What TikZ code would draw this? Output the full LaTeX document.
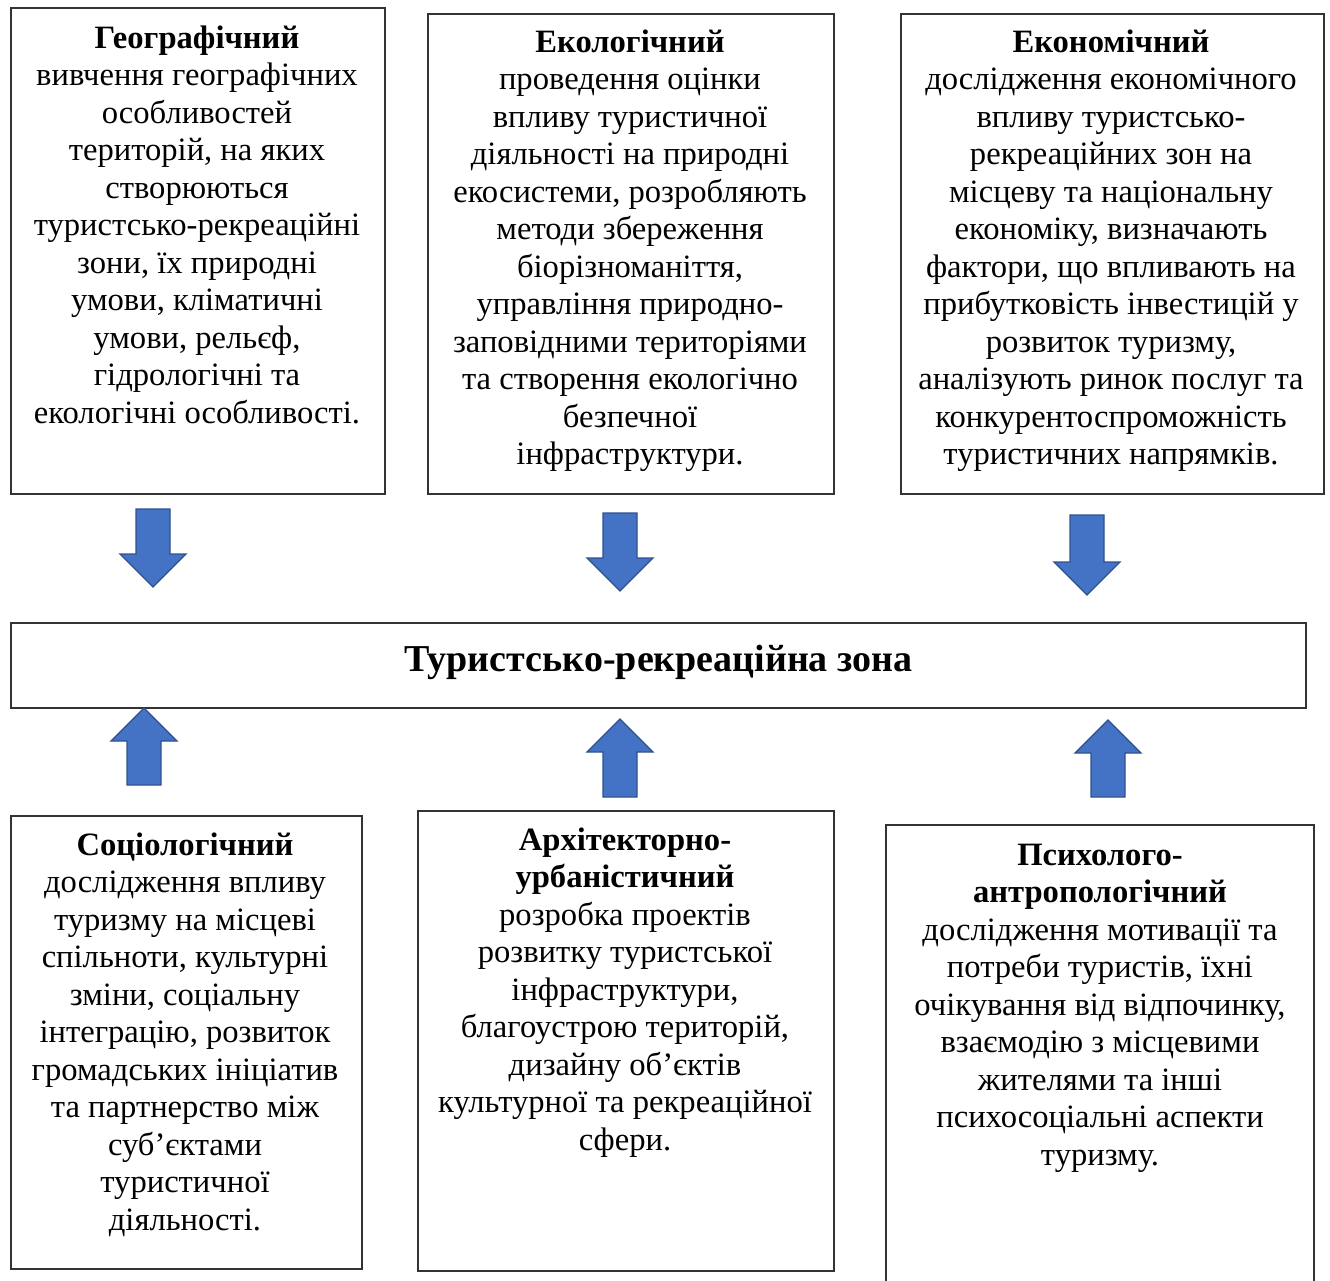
\documentclass[tikz,border=0pt]{standalone}
\usepackage{fontspec}
\setmainfont{Liberation Serif}
\definecolor{arrfill}{HTML}{4472C4}
\definecolor{arrline}{HTML}{2F528F}
\newcommand\blkdown[4]{% name, cx, top, tip
  \filldraw[arrsty] (#2-17,#3) -- (#2+17,#3) -- (#2+17,#4-33) -- (#2+33,#4-33) -- (#2,#4) -- (#2-33,#4-33) -- (#2-17,#4-33) -- cycle;
  \coordinate (#1) at (#2,#4);}
\newcommand\blkup[4]{% name, cx, bottom, tip
  \filldraw[arrsty] (#2-17,#3) -- (#2+17,#3) -- (#2+17,#4+33) -- (#2+33,#4+33) -- (#2,#4) -- (#2-33,#4+33) -- (#2-17,#4+33) -- cycle;
  \coordinate (#1) at (#2,#4);}
\begin{document}
\begin{tikzpicture}[x=1pt,y=-1pt,
  box/.style={draw=black!80, line width=1.8pt, fill=none, inner sep=0pt, anchor=north west},
  txt/.style={align=center, inner sep=0pt, anchor=north, font=\fontsize{32.6}{37.5}\selectfont},
  arrsty/.style={fill=arrfill, draw=arrline, line width=1.3pt, line join=miter}]
\useasboundingbox (0,0) rectangle (1330,1281);
\fill[white] (0,0) rectangle (1330,1281);

% top boxes
\node[box, minimum width=374pt, minimum height=485.5pt] (geo) at (10,7.5) {};
\node[box, minimum width=406pt, minimum height=480pt] (eco) at (427,13) {};
\node[box, minimum width=423pt, minimum height=480pt] (ec) at (900,13) {};

\node[txt] (geot) at (197,21.75) {\strut\textbf{Географічний}\\
вивчення географічних\\
особливостей\\
територій, на яких\\
створюються\\
туристсько-рекреаційні\\
зони, їх природні\\
умови, кліматичні\\
умови, рельєф,\\
гідрологічні та\\
екологічні особливості.};

\node[txt] (ecot) at (630,25.75) {\strut\textbf{Екологічний}\\
проведення оцінки\\
впливу туристичної\\
діяльності на природні\\
екосистеми, розробляють\\
методи збереження\\
біорізноманіття,\\
управління природно-\\
заповідними територіями\\
та створення екологічно\\
безпечної\\
інфраструктури.};

\node[txt] (ect) at (1111,25.75) {\strut\textbf{Економічний}\\
дослідження економічного\\
впливу туристсько-\\
рекреаційних зон на\\
місцеву та національну\\
економіку, визначають\\
фактори, що впливають на\\
прибутковість інвестицій у\\
розвиток туризму,\\
аналізують ринок послуг та\\
конкурентоспроможність\\
туристичних напрямків.};

% central box
\node[box, minimum width=1295pt, minimum height=85pt] (zone) at (10,622) {};
\node[font=\fontsize{38}{44}\selectfont\bfseries, inner sep=0pt] (zonet) at ([yshift=3pt]zone.center) {Туристсько-рекреаційна зона};

% bottom boxes
\node[box, minimum width=351pt, minimum height=453pt] (soc) at (10,815) {};
\node[box, minimum width=416pt, minimum height=460pt] (arch) at (417,810) {};
\draw[draw=black!80, line width=1.8pt] (886,1300) -- (886,825) -- (1314,825) -- (1314,1300);
\coordinate (psyc) at (1100,825);

\node[txt] (soct) at (185,828.75) {\strut\textbf{Соціологічний}\\
дослідження впливу\\
туризму на місцеві\\
спільноти, культурні\\
зміни, соціальну\\
інтеграцію, розвиток\\
громадських ініціатив\\
та партнерство між\\
суб'єктами\\
туристичної\\
діяльності.};

\node[txt] (archt) at (625,823.75) {\strut\textbf{Архітекторно-}\\
\textbf{урбаністичний}\\
розробка проектів\\
розвитку туристської\\
інфраструктури,\\
благоустрою територій,\\
дизайну об'єктів\\
культурної та рекреаційної\\
сфери.};

\node[txt] (psyt) at (1100,838.75) {\strut\textbf{Психолого-}\\
\textbf{антропологічний}\\
дослідження мотивації та\\
потреби туристів, їхні\\
очікування від відпочинку,\\
взаємодію з місцевими\\
жителями та інші\\
психосоціальні аспекти\\
туризму.};

% block arrows
\blkdown{a1}{153}{509}{587}
\blkdown{a2}{620}{513}{591}
\blkdown{a3}{1087}{515}{595}
\blkup{b1}{144}{785}{708}
\blkup{b2}{620}{797}{719}
\blkup{b3}{1108}{797}{720}
\end{tikzpicture}
\end{document}
